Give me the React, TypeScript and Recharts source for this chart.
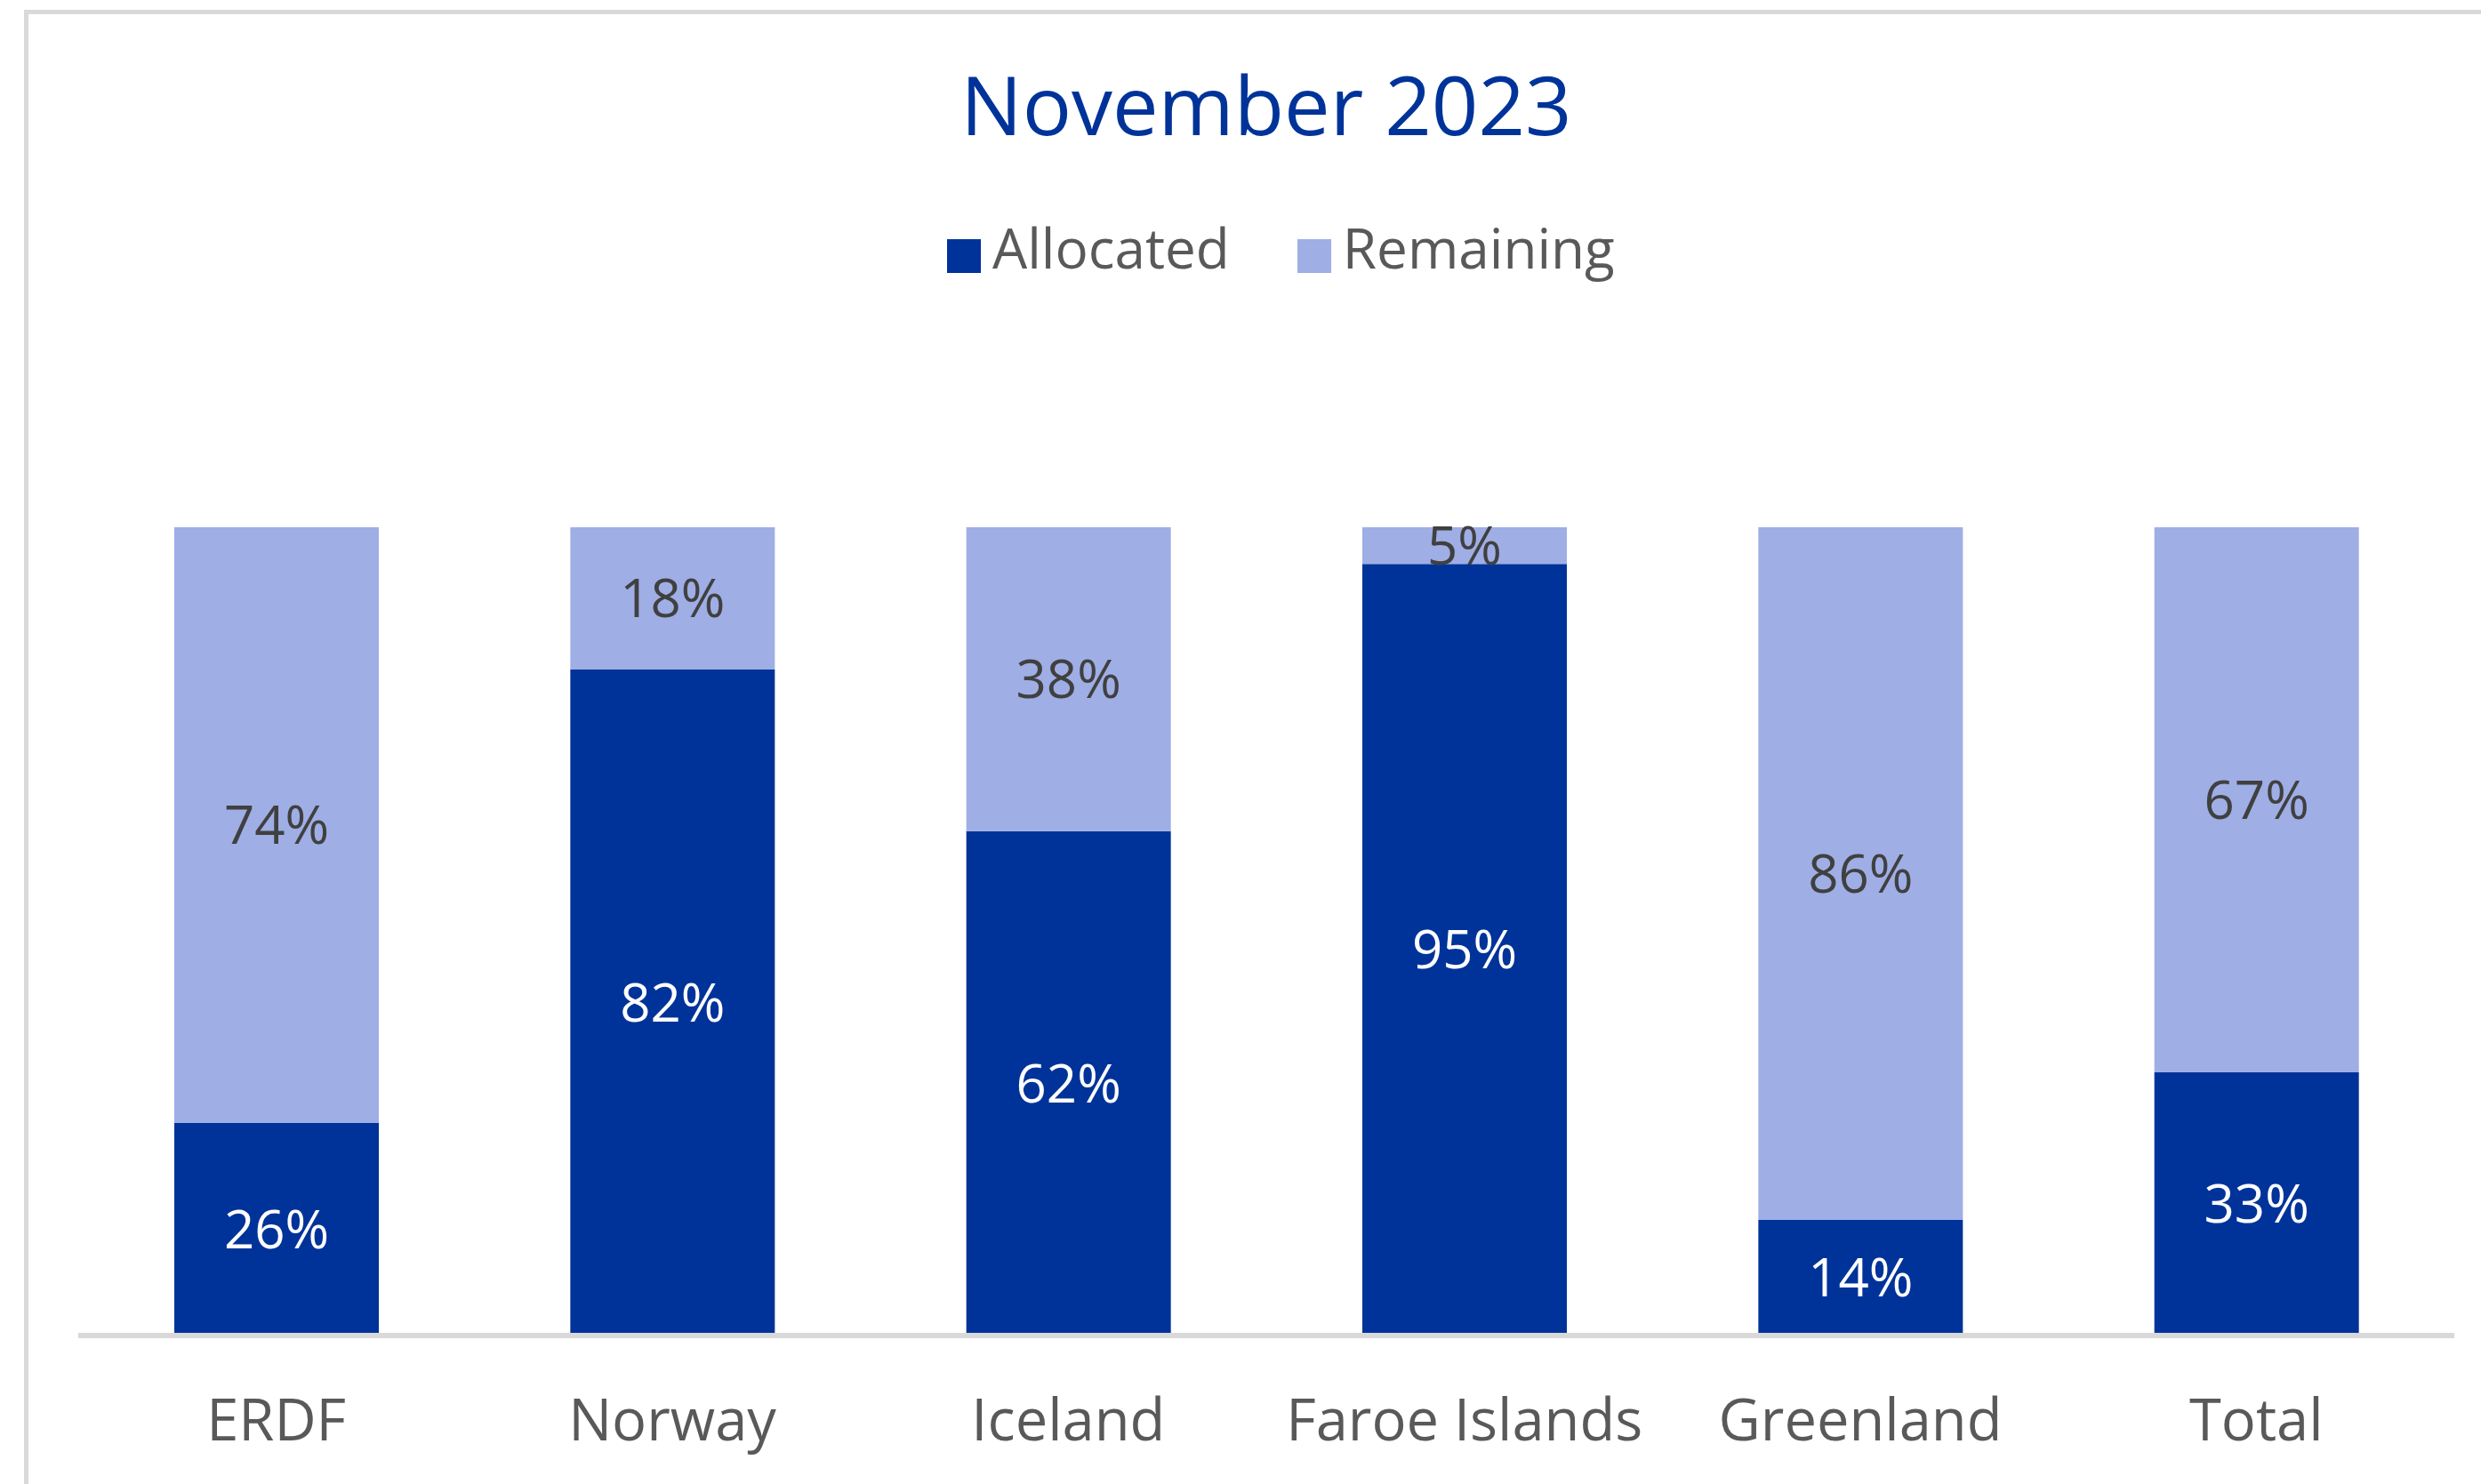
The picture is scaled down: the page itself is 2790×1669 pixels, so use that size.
import { BarChart, Bar, XAxis, YAxis, Legend, LabelList } from 'recharts'

const title = 'November 2023'
const categories = ['ERDF', 'Norway', 'Iceland', 'Faroe Islands', 'Greenland', 'Total']
// shares in percent (labels are rounded)
const allocated = [26.3, 82.4, 62.4, 95.45, 14.3, 32.55]
const remaining = [73.7, 17.6, 37.6, 4.55, 85.7, 67.45]
const seriesNames = ['Allocated', 'Remaining']
const seriesColors = ['#003399', '#9faee5']

const data = categories.map((name, i) => ({ name, allocated: allocated[i], remaining: remaining[i] }))

const FONT = '"Open Sans", "Noto Sans", sans-serif'

function LegendBox() {
  return (
    <div style={{ display: 'flex', alignItems: 'flex-start', fontFamily: FONT, fontSize: 62, lineHeight: '62px', color: '#595959' }}>
      {seriesNames.map((n, i) => (
        <div key={n} style={{ display: 'flex', alignItems: 'flex-start', marginRight: i === 0 ? 76 : 0 }}>
          <div style={{ width: 38, height: 38, marginTop: 22, marginRight: 13, background: seriesColors[i] }} />
          <span>{n}</span>
        </div>
      ))}
    </div>
  )
}

function CategoryTick(props: any) {
  const { x, y, payload } = props
  return (
    <text x={x} y={y + 118} textAnchor="middle" fontFamily={FONT} fontSize={65} fill="#595959">
      {payload.value}
    </text>
  )
}

const pct = (v: any) => `${Math.round(Number(v))}%`

export default function App() {
  return (
    <div style={{ position: 'absolute', left: 0, top: 0, width: 2790, height: 1669, overflow: 'hidden', background: '#fff' }}>
      {/* chart frame: only the top and left edges are in view */}
      <div style={{ position: 'absolute', left: 27, top: 11, width: 2800, height: 1700, borderLeft: '5px solid #d9d9d9', borderTop: '5px solid #d9d9d9' }} />
      <div style={{ position: 'absolute', left: 1024, top: 71, width: 800, textAlign: 'center', fontFamily: FONT, fontSize: 92, lineHeight: '92px', color: '#003399' }}>
        {title}
      </div>
      <BarChart
        width={2790}
        height={1669}
        data={data}
        margin={{ top: 593, right: 30, bottom: 67, left: 88 }}
        style={{ position: 'absolute', left: 0, top: 0 }}
      >
        <XAxis
          dataKey="name"
          height={100}
          tickLine={false}
          tickSize={0}
          tickMargin={0}
          axisLine={{ stroke: '#d9d9d9', strokeWidth: 6 }}
          tick={<CategoryTick />}
          interval={0}
        />
        <YAxis hide domain={[0, 100]} />
        <Legend
          layout="horizontal"
          verticalAlign="middle"
          align="center"
          content={<LegendBox />}
          wrapperStyle={{ top: 247, left: 1065, width: 'auto' }}
        />
        <Bar dataKey="allocated" name={seriesNames[0]} stackId="a" fill={seriesColors[0]} barSize={230} isAnimationActive={false}>
          <LabelList dataKey="allocated" position="center" formatter={pct} fill="#ffffff" fontSize={60} fontFamily={FONT} />
        </Bar>
        <Bar dataKey="remaining" name={seriesNames[1]} stackId="a" fill={seriesColors[1]} barSize={230} isAnimationActive={false}>
          <LabelList dataKey="remaining" position="center" formatter={pct} fill="#404040" fontSize={60} fontFamily={FONT} />
        </Bar>
      </BarChart>
    </div>
  )
}
